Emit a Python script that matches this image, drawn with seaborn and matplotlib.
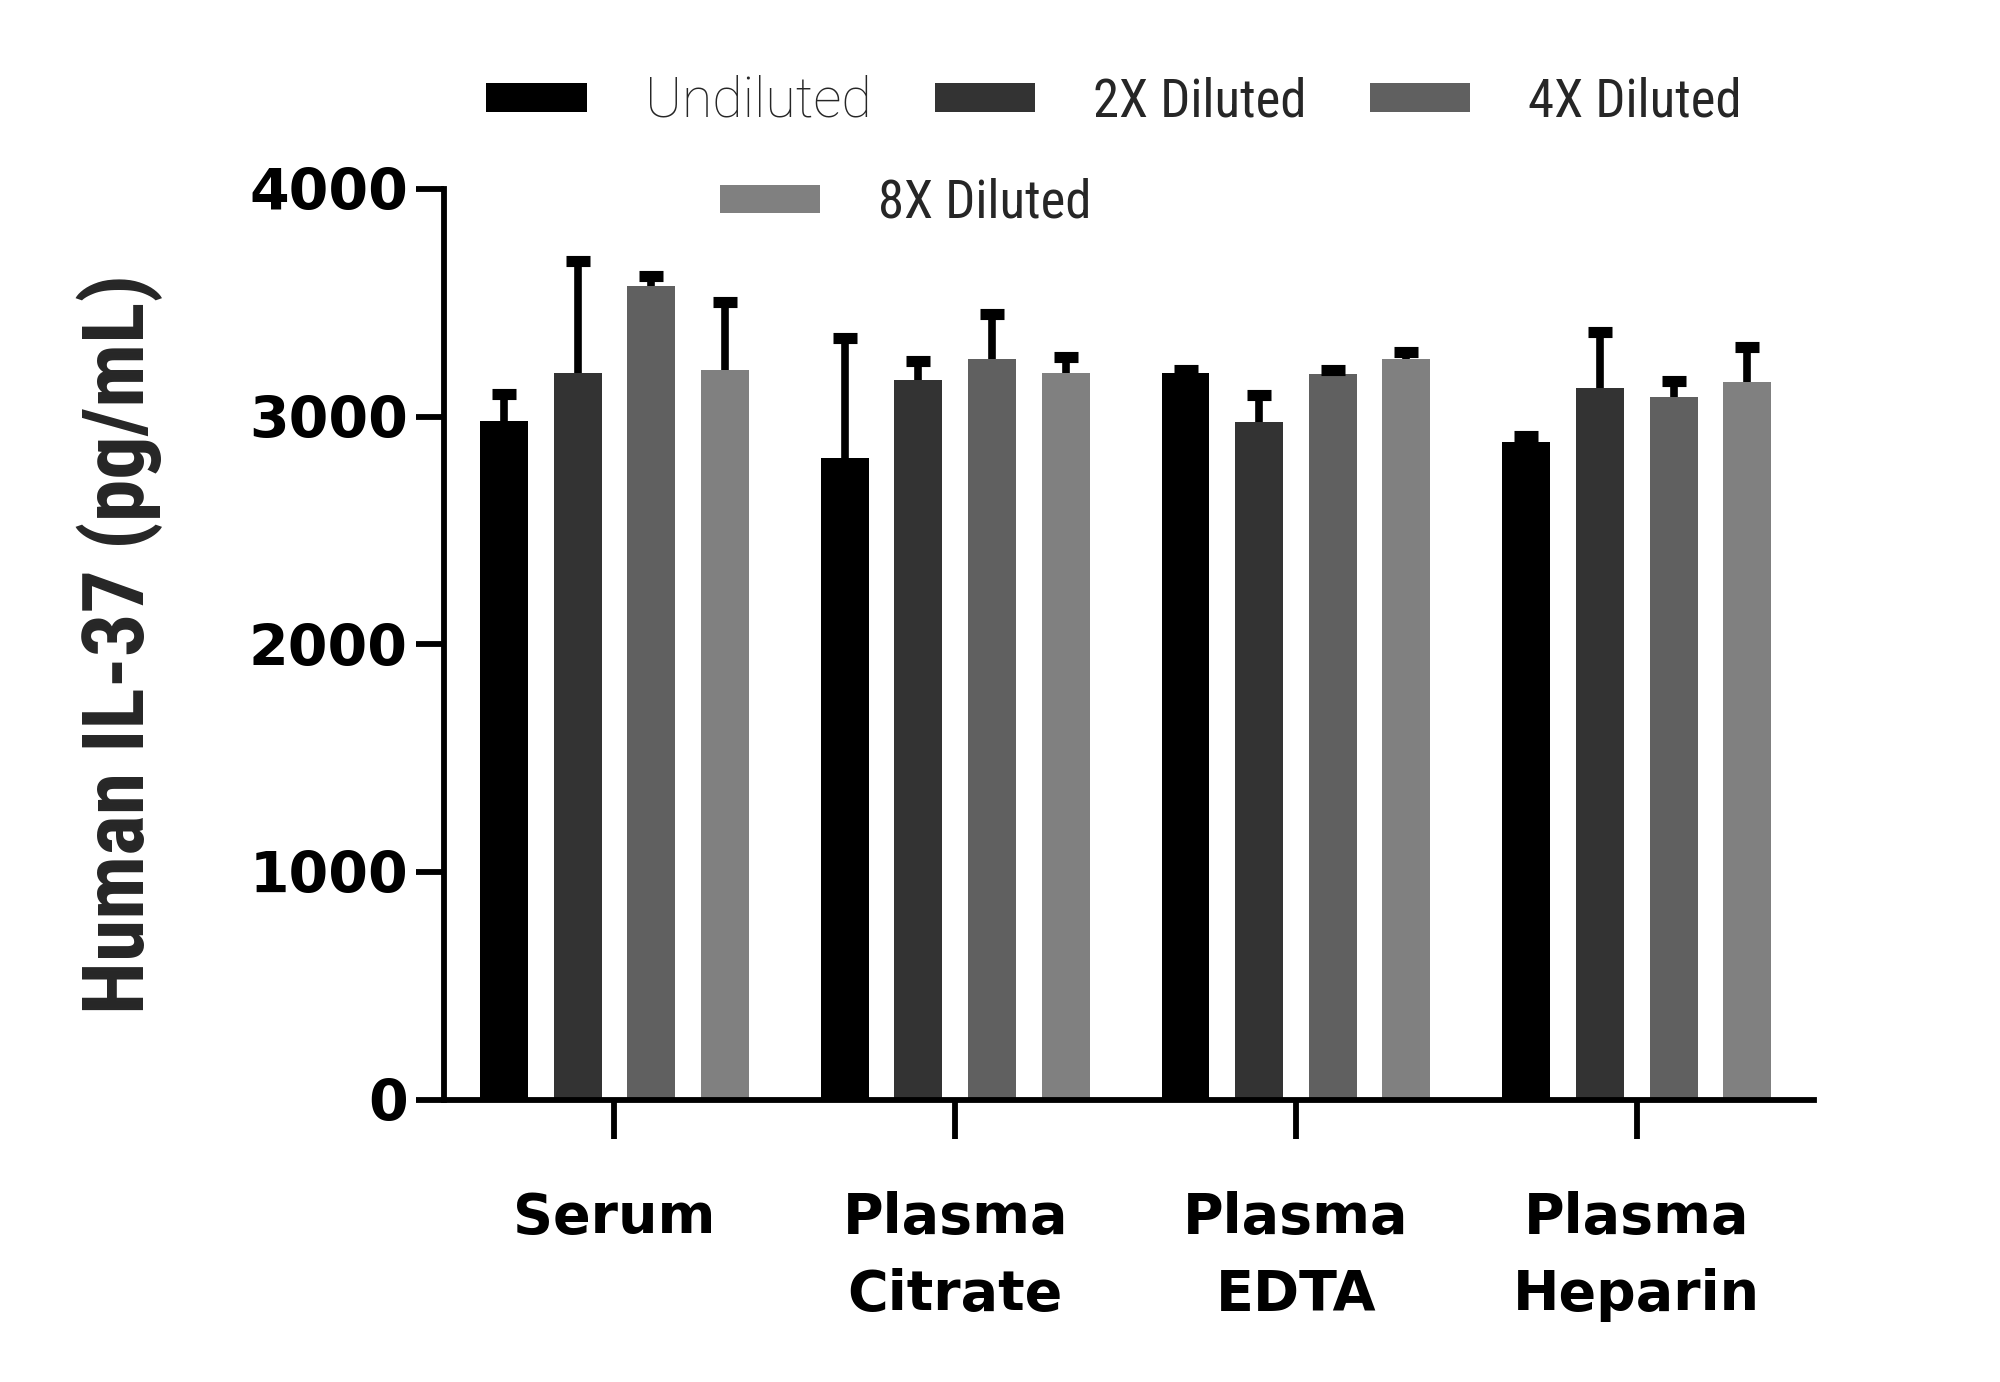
import numpy as np
import pandas as pd
import matplotlib
matplotlib.use("Agg")
import matplotlib.pyplot as plt
from matplotlib.patches import Patch
from matplotlib import font_manager as fm
import seaborn as sns

# ---------------- data ----------------
categories = ["Serum", "Plasma\nCitrate", "Plasma\nEDTA", "Plasma\nHeparin"]
dilutions = ["Undiluted", "2X Diluted", "4X Diluted", "8X Diluted"]

undiluted_mean = [2980, 2820, 3190, 2890]
dil2x_mean = [3190, 3160, 2975, 3125]
dil4x_mean = [3575, 3255, 3185, 3085]
dil8x_mean = [3205, 3190, 3255, 3150]

undiluted_sd = [120, 525, 15, 27]
dil2x_sd = [495, 85, 120, 248]
dil4x_sd = [42, 195, 20, 70]
dil8x_sd = [300, 70, 28, 155]

colors = ["#000000", "#333333", "#606060", "#808080"]
y_ticks = [0, 1000, 2000, 3000, 4000]
y_label = "Human IL-37 (pg/mL)"

means = [undiluted_mean, dil2x_mean, dil4x_mean, dil8x_mean]
sds = [undiluted_sd, dil2x_sd, dil4x_sd, dil8x_sd]

rows = []
for d, m in zip(dilutions, means):
    for c, v in zip(categories, m):
        rows.append({"Sample": c, "Dilution": d, "Value": v})
df = pd.DataFrame(rows)

# ---------------- style / fonts ----------------
sns.set_style("ticks")
names = {f.name for f in fm.fontManager.ttflist}
def pick(cands, default):
    for c in cands:
        if c in names:
            return c
    return default
narrow = pick(["Liberation Sans Narrow", "DejaVu Sans Condensed", "Roboto Condensed"], "Liberation Sans")
light = pick(["Roboto", "Open Sans", "Lato"], "DejaVu Sans")
plt.rcParams["font.family"] = ["DejaVu Sans"]

fig = plt.figure(figsize=(20, 13.82), dpi=100)
ax = fig.add_axes([0.222, 0.2043, 0.685, 0.659])

sns.barplot(data=df, x="Sample", y="Value", hue="Dilution", order=categories,
            hue_order=dilutions, palette=colors, errorbar=None, width=0.864,
            gap=0.35, saturation=1, ax=ax, legend=False, linewidth=0)

# one-sided (upper) error bars
for cont, sd in zip(ax.containers, sds):
    xs = np.array([b.get_x() + b.get_width() / 2 for b in cont])
    hs = np.array([b.get_height() for b in cont])
    eb = ax.errorbar(xs, hs, yerr=[np.zeros(len(sd)), sd], fmt="none", ecolor="black",
                     elinewidth=5.5, capsize=8.5, capthick=8, zorder=5)
    for cl in eb.lines[1]:
        if np.allclose(cl.get_ydata(), hs):
            cl.set_visible(False)

ax.set_ylim(0, 4000)
ax.set_xlim(-0.5, 3.52)
ax.set_yticks(y_ticks)
ax.set_yticklabels([str(t) for t in y_ticks])
ax.set_xlabel("")
sns.despine(ax=ax)
for s in ["left", "bottom"]:
    ax.spines[s].set_linewidth(4.2)
    ax.spines[s].set_color("black")
ax.tick_params(axis="y", length=20, width=4.2, direction="out", pad=6, colors="black")
ax.tick_params(axis="x", length=28, width=4.2, direction="out", pad=38, colors="black")
for t in ax.get_yticklabels():
    t.set_fontsize(41); t.set_fontweight("bold")
for t in ax.get_xticklabels():
    t.set_fontsize(40); t.set_fontweight("bold"); t.set_linespacing(1.55)

ax.set_ylabel(y_label, fontsize=62, fontweight="bold", family=[narrow, "DejaVu Sans"])
ax.yaxis.set_label_coords(-0.237, 0.50)
ax.yaxis.label.set_va("center")

# legends
handles = [Patch(facecolor=c, edgecolor="none") for c in colors]
leg1 = fig.legend(handles[:3], dilutions[:3], loc="center", bbox_to_anchor=(0.557, 0.927),
                  ncol=3, frameon=False, handlelength=1.9, handleheight=0.45,
                  handletextpad=1.1, columnspacing=1.2,
                  prop={"family": [narrow, "DejaVu Sans"], "size": 38})
leg1.get_texts()[0].set_family([light, "DejaVu Sans"])
leg1.get_texts()[0].set_fontweight("light")
leg1.get_texts()[0].set_fontsize(40)
leg2 = fig.legend(handles[3:], dilutions[3:], loc="center", bbox_to_anchor=(0.453, 0.853),
                  frameon=False, handlelength=1.9, handleheight=0.45, handletextpad=1.1,
                  prop={"family": [narrow, "DejaVu Sans"], "size": 38})

fig.savefig("out.png", dpi=100, facecolor="white")
